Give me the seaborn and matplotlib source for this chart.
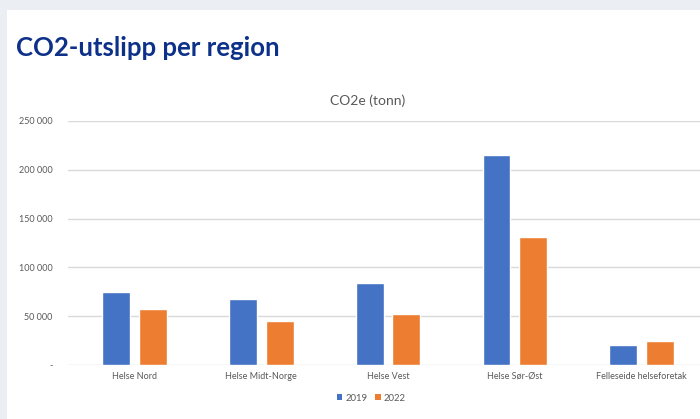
import matplotlib
matplotlib.use("Agg")
import matplotlib.pyplot as plt
import matplotlib.patches as mpatches
from matplotlib.ticker import FuncFormatter
import seaborn as sns
import pandas as pd

regions = ["Helse Nord", "Helse Midt-Norge", "Helse Vest", "Helse Sør-Øst", "Felleseide helseforetak"]
years = ["2019", "2022"]
values_2019 = [75000, 68000, 84000, 215000, 20000]
values_2022 = [57000, 45000, 52000, 131000, 25000]
yticks = [0, 50000, 100000, 150000, 200000, 250000]

df = pd.DataFrame({
    "region": regions * 2,
    "year": [years[0]] * len(regions) + [years[1]] * len(regions),
    "value": values_2019 + values_2022,
})

sns.set_theme(style="white")
plt.rcParams["font.family"] = ["Lato", "DejaVu Sans"]

fig = plt.figure(figsize=(7, 4.19), dpi=100)
fig.patch.set_facecolor("#ebeff3")
bg = fig.add_axes([7 / 700, 0, 1 - 7 / 700, 1 - 10 / 419], zorder=-10)
bg.set_facecolor("white")
bg.set_xticks([])
bg.set_yticks([])
for s in bg.spines.values():
    s.set_visible(False)

ax = fig.add_axes([68 / 700, 1 - 365 / 419, (705 - 68) / 700, (365 - 121) / 419])
ax.set_facecolor("none")
palette = {"2019": "#4472C4", "2022": "#ED7D31"}
sns.barplot(data=df, x="region", y="value", hue="year", palette=palette, width=0.58, gap=0.24,
            ax=ax, legend=False, saturation=1, zorder=3)

ax.set_ylim(0, 250000)
ax.set_xlim(-0.525, 4.5)
ax.set_yticks(yticks)
ax.yaxis.set_major_formatter(FuncFormatter(lambda v, p: "-" if v == 0 else f"{int(v):,}".replace(",", " ")))
ax.grid(axis="y", color="#d9d9d9", linewidth=1, zorder=0)
ax.set_axisbelow(True)
for s in ax.spines.values():
    s.set_visible(False)
ax.tick_params(axis="both", length=0, labelsize=6.5, labelcolor="#595959")
ax.tick_params(axis="y", pad=11)
ax.tick_params(axis="x", pad=5)
ax.set_xlabel("")
ax.set_ylabel("")

fig.text(16 / 700, 1 - 48 / 419, "CO2-utslipp per region", fontsize=18.5, fontweight="bold",
         color="#0d3189", va="center", ha="left")
fig.text(368 / 700, 1 - 101 / 419, "CO2e (tonn)", fontsize=10, color="#595959", ha="center", va="center")

handles = [mpatches.Patch(facecolor=palette[y], edgecolor="none", label=y) for y in years]
fig.legend(handles=handles, loc="center", bbox_to_anchor=(371 / 700, 1 - 398 / 419), ncol=2,
           frameon=False, fontsize=6.8, handlelength=0.6, handleheight=0.6, handletextpad=0.3,
           columnspacing=0.8, labelcolor="#595959")

fig.savefig("out.png", dpi=100, facecolor=fig.get_facecolor())
